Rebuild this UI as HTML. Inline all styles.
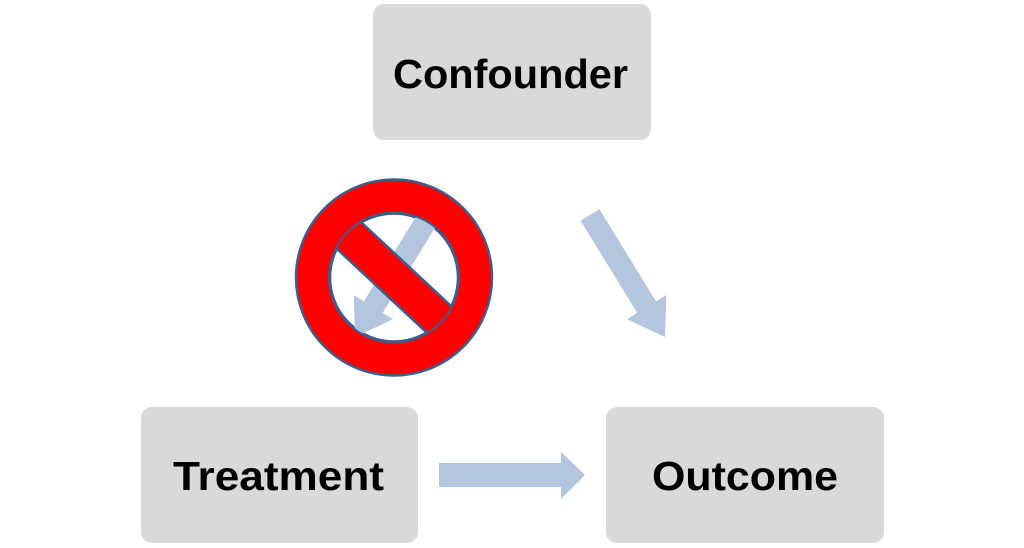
<!DOCTYPE html>
<html><head><meta charset="utf-8"><style>
html,body{margin:0;padding:0;background:#fff;}
svg{display:block;}
text{font-family:"Liberation Sans",sans-serif;font-weight:bold;fill:#000;}
</style></head><body>
<svg width="1024" height="548" viewBox="0 0 1024 548" xmlns="http://www.w3.org/2000/svg">
<defs><clipPath id="hole"><circle cx="394" cy="277.5" r="65"/></clipPath></defs>
<rect x="373" y="4" width="278" height="136" rx="11" fill="#d9d9d9"/>
<rect x="141" y="407" width="277" height="136" rx="11" fill="#d9d9d9"/>
<rect x="606" y="407" width="278" height="136" rx="11" fill="#d9d9d9"/>
<text x="393" y="88" font-size="41" textLength="235" lengthAdjust="spacingAndGlyphs">Confounder</text>
<text x="173" y="490" font-size="41" textLength="211" lengthAdjust="spacingAndGlyphs">Treatment</text>
<text x="652" y="490" font-size="41" textLength="186" lengthAdjust="spacingAndGlyphs">Outcome</text>
<polygon fill="#b4c5de" points="439,463 561,463 561,452 585,475 561,499 561,487 439,487"/>
<polygon fill="#b4c5de" points="599.4,209.2 656.1,301.4 666.3,295.1 665,337 627.1,319.3 637.3,312.9 580.6,220.8"/>
<circle cx="394" cy="277.5" r="98" fill="#ff0000" stroke="#3b5e8c" stroke-width="2.5"/>
<circle cx="394" cy="277.5" r="64" fill="#fff" stroke="#3b5e8c" stroke-width="2.5"/>
<g clip-path="url(#hole)">
<polygon fill="#b4c5de" points="420.6,209.2 363.9,301.4 353.7,295.1 355,337 392.9,319.3 382.7,312.9 439.4,220.8"/>
<g transform="rotate(43 394 277.5)">
<rect x="310" y="259.5" width="170" height="36" fill="#ff0000" stroke="#3b5e8c" stroke-width="2.5"/>
</g>
</g>
<circle cx="394" cy="277.5" r="65" fill="none" stroke="#3b5e8c" stroke-width="2"/>
</svg>
</body></html>
